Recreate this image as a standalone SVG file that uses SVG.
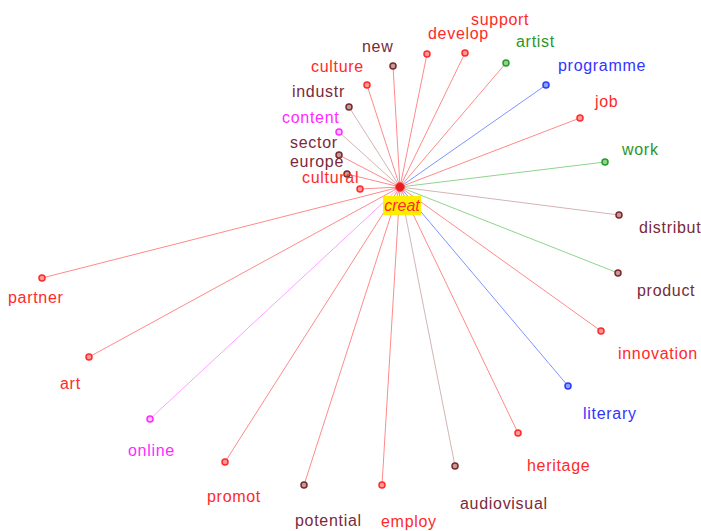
<svg xmlns="http://www.w3.org/2000/svg" width="701" height="531" viewBox="0 0 701 531">
<style>
text{font-family:"Liberation Sans",Arial,sans-serif;font-size:16px;letter-spacing:0.7px}
.lr{stroke:#ff8a8a;stroke-width:1}
.lb{stroke:#7d94ff;stroke-width:1}
.lg{stroke:#8fd48f;stroke-width:1}
.ln{stroke:#d4b4b4;stroke-width:1}
.lm{stroke:#ffa0ff;stroke-width:1}
.dr{fill:#ff9a9a;stroke:#ff2a2a;stroke-width:1.5}
.db{fill:#8fa4ff;stroke:#2a3cff;stroke-width:1.5}
.dg{fill:#8fd48f;stroke:#2a9a2a;stroke-width:1.5}
.dn{fill:#c49a9a;stroke:#7a2a2a;stroke-width:1.5}
.dm{fill:#ffc0ff;stroke:#ff2aff;stroke-width:1.5}
.tr{fill:#ff2a2a}
.tb{fill:#3434ff}
.tg{fill:#2a962a}
.tn{fill:#7a2a3a}
.tm{fill:#ff2aff}
</style>
<rect width="701" height="531" fill="#ffffff"/>
<g id="connectors">
<line class="lr" x1="400" y1="187" x2="393" y2="66"/>
<line class="lr" x1="400" y1="187" x2="367" y2="85"/>
<line class="lr" x1="400" y1="187" x2="427" y2="54"/>
<line class="lr" x1="400" y1="187" x2="465" y2="53"/>
<line class="lr" x1="400" y1="187" x2="506" y2="63"/>
<line class="lb" x1="400" y1="187" x2="546" y2="85"/>
<line class="lr" x1="400" y1="187" x2="580" y2="118"/>
<line class="lg" x1="400" y1="187" x2="605" y2="162"/>
<line class="ln" x1="400" y1="187" x2="619" y2="215"/>
<line class="lg" x1="400" y1="187" x2="618" y2="273"/>
<line class="lr" x1="400" y1="187" x2="601" y2="331"/>
<line class="lb" x1="400" y1="187" x2="568" y2="386"/>
<line class="lr" x1="400" y1="187" x2="518" y2="433"/>
<line class="ln" x1="400" y1="187" x2="455" y2="466"/>
<line class="lr" x1="400" y1="187" x2="382" y2="485"/>
<line class="lr" x1="400" y1="187" x2="304" y2="485"/>
<line class="lr" x1="400" y1="187" x2="225" y2="462"/>
<line class="lm" x1="400" y1="187" x2="150" y2="419"/>
<line class="lr" x1="400" y1="187" x2="89" y2="357"/>
<line class="lr" x1="400" y1="187" x2="42" y2="278"/>
<line class="ln" x1="400" y1="187" x2="349" y2="107"/>
<line class="ln" x1="400" y1="187" x2="339" y2="132"/>
<line class="lr" x1="400" y1="187" x2="339" y2="155"/>
<line class="lr" x1="400" y1="187" x2="347" y2="174"/>
<line class="lr" x1="400" y1="187" x2="360" y2="189"/>
</g>
<g id="n-new"><circle class="dn" cx="393" cy="66" r="3"/><text class="tn" x="362" y="52">new</text></g>
<g id="n-culture"><circle class="dr" cx="367" cy="85" r="3"/><text class="tr" x="311" y="72">culture</text></g>
<g id="n-develop"><circle class="dr" cx="427" cy="54" r="3"/><text class="tr" x="428" y="39">develop</text></g>
<g id="n-support"><circle class="dr" cx="465" cy="53" r="3"/><text class="tr" x="471" y="25">support</text></g>
<g id="n-artist"><circle class="dg" cx="506" cy="63" r="3"/><text class="tg" x="516" y="47">artist</text></g>
<g id="n-programme"><circle class="db" cx="546" cy="85" r="3"/><text class="tb" x="558" y="71">programme</text></g>
<g id="n-job"><circle class="dr" cx="580" cy="118" r="3"/><text class="tr" x="595" y="107">job</text></g>
<g id="n-work"><circle class="dg" cx="605" cy="162" r="3"/><text class="tg" x="622" y="155">work</text></g>
<g id="n-distribut"><circle class="dn" cx="619" cy="215" r="3"/><text class="tn" x="639" y="233">distribut</text></g>
<g id="n-product"><circle class="dn" cx="618" cy="273" r="3"/><text class="tn" x="637" y="296">product</text></g>
<g id="n-innovation"><circle class="dr" cx="601" cy="331" r="3"/><text class="tr" x="618" y="359">innovation</text></g>
<g id="n-literary"><circle class="db" cx="568" cy="386" r="3"/><text class="tb" x="583" y="419">literary</text></g>
<g id="n-heritage"><circle class="dr" cx="518" cy="433" r="3"/><text class="tr" x="527" y="471">heritage</text></g>
<g id="n-audiovisual"><circle class="dn" cx="455" cy="466" r="3"/><text class="tn" x="460" y="509">audiovisual</text></g>
<g id="n-employ"><circle class="dr" cx="382" cy="485" r="3"/><text class="tr" x="381" y="527">employ</text></g>
<g id="n-potential"><circle class="dn" cx="304" cy="485" r="3"/><text class="tn" x="295" y="526">potential</text></g>
<g id="n-promot"><circle class="dr" cx="225" cy="462" r="3"/><text class="tr" x="207" y="502">promot</text></g>
<g id="n-online"><circle class="dm" cx="150" cy="419" r="3"/><text class="tm" x="128" y="456">online</text></g>
<g id="n-art"><circle class="dr" cx="89" cy="357" r="3"/><text class="tr" x="60" y="389">art</text></g>
<g id="n-partner"><circle class="dr" cx="42" cy="278" r="3"/><text class="tr" x="8" y="303">partner</text></g>
<g id="n-industr"><circle class="dn" cx="349" cy="107" r="3"/><text class="tn" x="292" y="97">industr</text></g>
<g id="n-content"><circle class="dm" cx="339" cy="132" r="3"/><text class="tm" x="282" y="123">content</text></g>
<g id="n-sector"><circle class="dn" cx="339" cy="155" r="3"/><text class="tn" x="290" y="148">sector</text></g>
<g id="n-europe"><circle class="dn" cx="347" cy="174" r="3"/><text class="tn" x="290" y="167">europe</text></g>
<g id="n-cultural"><circle class="dr" cx="360" cy="189" r="3"/><text class="tr" x="302" y="183">cultural</text></g>
<g id="n-creat">
<circle cx="400" cy="187" r="4.5" fill="#e81c1c" stroke="#ff5050" stroke-width="1"/>
<rect x="383" y="196" width="38" height="19" fill="#ffee00"/>
<text class="tr" x="402" y="211" text-anchor="middle" font-style="italic" style="letter-spacing:0">creat</text>
</g>
</svg>
